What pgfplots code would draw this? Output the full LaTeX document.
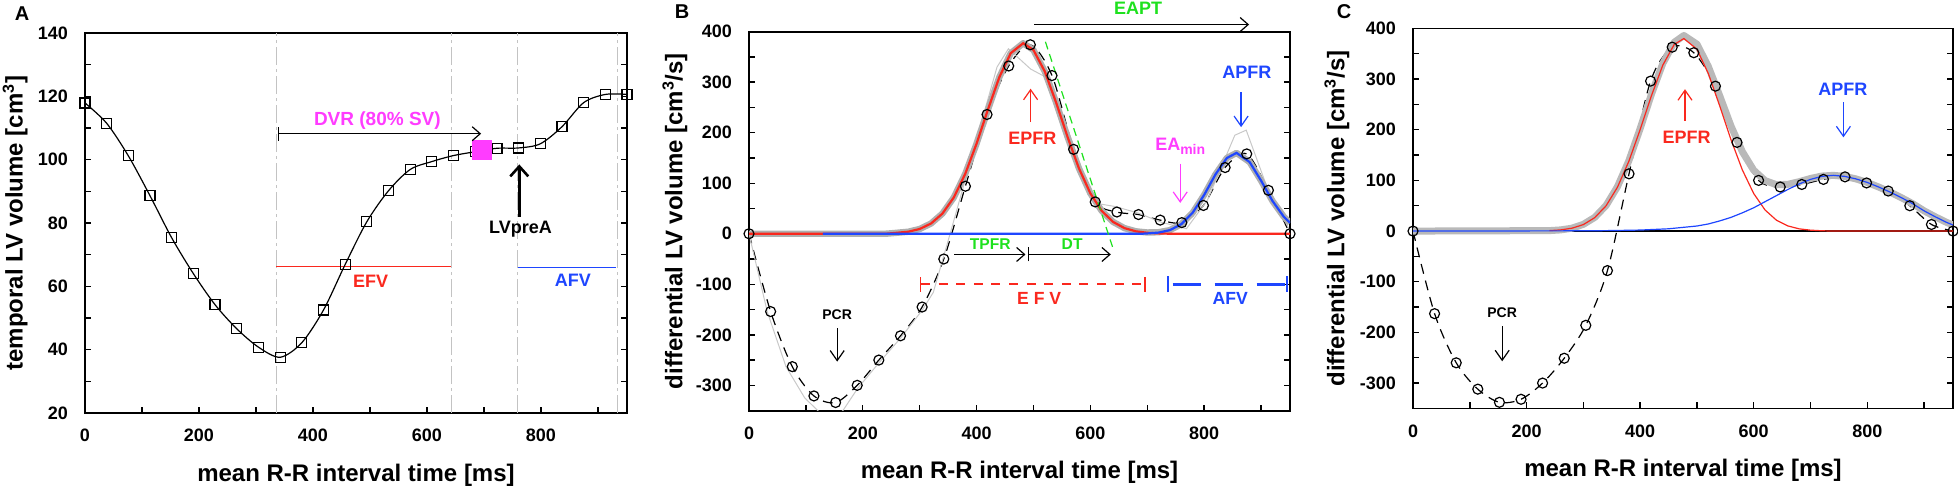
\documentclass[border=0pt]{standalone}
\usepackage{pgfplots}
\pgfplotsset{compat=1.18}
\usepackage{fontspec}
\setmainfont{Liberation Sans}
\usetikzlibrary{arrows.meta}

\definecolor{myred}{RGB}{250,40,30}
\definecolor{myblue}{RGB}{30,70,255}
\definecolor{mymag}{RGB}{255,60,255}
\definecolor{mygreen}{RGB}{30,225,30}
\definecolor{band}{RGB}{175,175,175}
\definecolor{bandc}{RGB}{185,185,185}
\definecolor{raw}{RGB}{200,200,200}
\definecolor{vline}{RGB}{195,195,195}

\newcommand{\fs}[1]{\fontsize{#1}{#1}\selectfont\bfseries}

\tikzset{barb/.style={-{Straight Barb[length=4pt,width=7pt]}}}

\pgfplotsset{
 panel/.style={
  scale only axis, clip mode=individual,
  xmin=0, xmax=951,
  xtick={0,200,...,800}, minor xtick={100,300,500,700,900},
  xtick pos=left, ytick pos=both,
  tick align=inside, major tick length=3pt, minor tick length=3pt,
  every tick/.append style={black, line width=0.7pt},
  every minor tick/.append style={black, line width=0.7pt},
  axis line style={line width=0.9pt},
  tick label style={font=\fs{9}},
  /pgf/number format/assume math mode=true,
  xticklabel style={yshift=-4.5pt},
  yticklabel style={xshift=-5pt},
  label style={font=\fs{12}},
  xlabel={mean R-R interval time [ms]},
  xlabel style={at={(axis description cs:0.5,-0.163)}, anchor=center},
 },
}

\begin{document}
\begin{tikzpicture}

% ---------------- Panel A ----------------
\begin{axis}[panel, at={(42.5pt,37.5pt)}, anchor=south west, width=271pt, height=190pt,
 ymin=20, ymax=140, ytick={20,40,...,140}, minor y tick num=1,
 ylabel={temporal LV volume [cm\textsuperscript{3}]},
 ylabel style={at={(axis description cs:-0.129,0.5)}, anchor=center}]
 \addplot[vline, line width=0.5pt, dash pattern=on 9pt off 2pt on 1.5pt off 2pt] coordinates {(336,20) (336,140)};
 \addplot[vline, line width=0.5pt, dash pattern=on 9pt off 2pt on 1.5pt off 2pt] coordinates {(643,20) (643,140)};
 \addplot[vline, line width=0.5pt, dash pattern=on 9pt off 2pt on 1.5pt off 2pt] coordinates {(759,20) (759,140)};
 \addplot[vline, line width=0.5pt, dash pattern=on 9pt off 2pt on 1.5pt off 2pt] coordinates {(935,20) (935,140)};
 \addplot[myred, line width=0.8pt] coordinates {(336,66.3) (643,66.3)};
 \addplot[myblue, line width=0.8pt] coordinates {(759,65.9) (932,65.9)};
 \addplot[black, line width=0.6pt, smooth, mark=square, mark size=2.5pt, mark options={solid, line width=0.6pt}] coordinates {
 (0,117.9) (38.0,111.5) (76.1,101.2) (114.1,88.6) (152.2,75.3) (190.2,64.0) (228.2,54.2) (266.3,46.6) (304.3,40.8) (342.4,37.6) (380.4,42.2) (418.4,52.5) (456.5,66.9) (494.5,80.4) (532.6,90.2) (570.6,96.9) (608.6,99.4) (646.7,101.3) (684.7,102.5) (722.8,103.6) (760.8,103.7) (798.8,105.0) (836.9,110.4) (874.9,118.0) (913.0,120.6) (951,120.6)};
 \addplot[only marks, mark=square*, mark size=4.75pt, mark options={draw=mymag, fill=mymag}] coordinates {(696,103)};
 \draw[black, line width=0.6pt, {Bar[width=7pt]}-{Straight Barb[length=4pt,width=7pt]}] (axis cs:339,108.2) -- (axis cs:695,108.2);
 \node[mymag, font=\fs{9.5}] at (axis cs:513,112.4) {DVR (80\% SV)};
 \draw[black, line width=1.3pt, -{Straight Barb[length=5pt,width=9pt]}] (axis cs:762,82) -- (axis cs:762,98.5);
 \node[font=\fs{9}] at (axis cs:764,78.2) {LVpreA};
 \node[myred, font=\fs{9}] at (axis cs:501,61.5) {EFV};
 \node[myblue, font=\fs{9}] at (axis cs:856,62) {AFV};
\end{axis}

% ---------------- Panel B ----------------
\begin{axis}[panel, at={(374.5pt,38.7pt)}, anchor=south west, width=270.5pt, height=189.5pt,
 ymin=-350, ymax=400, ytick={-300,-200,...,400}, minor ytick={-350,-250,...,350},
 ylabel={differential LV volume [cm\textsuperscript{3}/s]},
 ylabel style={at={(axis description cs:-0.137,0.5)}, anchor=center}]
 \addplot[black, line width=0.6pt, dash pattern=on 5pt off 3.5pt, smooth] coordinates {
 (0,0) (38.0,-154) (76.1,-263) (114.1,-321) (152.2,-334) (190.2,-300) (228.2,-250) (266.3,-202) (304.3,-145) (342.4,-50) (380.4,94) (418.4,236) (456.5,332) (494.5,374) (532.6,313) (570.6,167) (608.6,63) (646.7,43) (684.7,38) (722.8,27) (760.8,22) (798.8,56) (836.9,131) (874.9,158) (913.0,86) (951,0)};
 \addplot[raw, line width=0.5pt] coordinates {
 (0,0) (32,-154) (65,-263) (98,-325) (121,-350) (140,-372) (165,-350) (191,-306) (228,-256) (266,-207) (304,-152) (324,-116) (354,2) (380,106) (406,211) (436,330) (456,366) (495,326) (528,306) (569,179) (584,120) (606,61) (643,54) (684,41) (724,23) (769,10) (806,67) (854,195) (874,205) (910,94) (950,8)};
 \addplot[band, line width=3.2pt, line join=round] coordinates {
 (0,0) (240,0) (250,0.9) (280,4) (300,9.4) (320,20.3) (340,39.9) (360,71.8) (380,118.3) (400,178.3) (420,245.7) (440,309.7) (460,357.2) (482,377) (500,363.6) (520,321) (540,259.2) (560,191.4) (580,129.4) (600,80) (620,45.2) (640,23.4) (660,11.1) (680,4.8) (700,2.5) (720,3.0) (740,7.2) (760,19) (780,41.8) (800,76.7) (820,117.4) (840,149.9) (857,160) (880,141.9) (900,105.3) (920,65.2) (940,33.7) (951,21.7)};
 \addplot[myred, line width=1.1pt] coordinates {
 (0,0) (240,0) (250,0.9) (280,4.0) (300,9.4) (320,20.3) (340,39.9) (360,71.8) (380,118.3) (400,178.3) (420,245.7) (440,309.7) (460,357.2) (482,377) (500,363.6) (520,321.0) (540,259.2) (560,191.4) (580,129.4) (600,80.0) (620,45.2) (640,23.4) (660,11.1) (680,4.8) (700,1.9) (720,0.7) (740,0) (951,0)};
 \addplot[myblue, line width=1.1pt] coordinates {
 (130,0) (690,0) (700,0.6) (720,2.3) (740,7.2) (760,19.0) (780,41.8) (800,76.7) (820,117.4) (840,149.9) (857,160) (880,141.9) (900,105.3) (920,65.2) (940,33.7) (951,21.7)};
 \addplot[mygreen, line width=0.6pt, dash pattern=on 4pt off 2.5pt] coordinates {(521,380) (639,-26)};
 \addplot[only marks, mark=o, mark size=2.5pt, mark options={black, line width=0.6pt}] coordinates {
 (0,0) (38.0,-154) (76.1,-263) (114.1,-321) (152.2,-334) (190.2,-300) (228.2,-250) (266.3,-202) (304.3,-145) (342.4,-50) (380.4,94) (418.4,236) (456.5,332) (494.5,374) (532.6,313) (570.6,167) (608.6,63) (646.7,43) (684.7,38) (722.8,27) (760.8,22) (798.8,56) (836.9,131) (874.9,158) (913.0,86) (951,0)};
 \addplot[myred, line width=0.9pt, dash pattern=on 4.5pt off 4.3pt, {Bar[width=7.5pt]}-{Bar[width=7.5pt]}] coordinates {(300,-100) (698,-100)};
 \addplot[myblue, line width=1.4pt, dash pattern=on 0pt off 2pt on 14pt off 5pt, {Bar[width=8pt]}-{Bar[width=8pt]}] coordinates {(734,-100) (948,-100)};
 \draw[black, line width=0.6pt, barb] (axis cs:361,-41) -- (axis cs:486,-41);
 \draw[black, line width=0.6pt, {Bar[width=7pt]}-{Straight Barb[length=4pt,width=7pt]}] (axis cs:490,-41) -- (axis cs:636,-41);
 \node[mygreen, font=\fs{7.8}] at (axis cs:424,-21.5) {TPFR};
 \node[mygreen, font=\fs{7.8}] at (axis cs:568,-21.5) {DT};
 \draw[black, line width=0.6pt, barb] (axis cs:501,414) -- (axis cs:879,414);
 \node[mygreen, font=\fs{9}] at (axis cs:684,447) {EAPT};
 \draw[myred, line width=0.6pt, -{Straight Barb[length=5pt,width=7pt]}] (axis cs:495,221) -- (axis cs:495,287);
 \node[myred, font=\fs{9}] at (axis cs:498,188.5) {EPFR};
 \node[myblue, font=\fs{9}] at (axis cs:875,319) {APFR};
 \draw[myblue, line width=0.6pt, -{Straight Barb[length=5pt,width=7pt]}] (axis cs:865,280) -- (axis cs:865,211);
 \node[mymag, font=\fs{9}] at (axis cs:758,173) {EA\raisebox{-2pt}{\fs{7}min}};
 \draw[mymag, line width=0.6pt, -{Straight Barb[length=5pt,width=7pt]}] (axis cs:758,139) -- (axis cs:758,61);
 \node[myred, font=\fs{8.8}] at (axis cs:510,-128) {E F V};
 \node[myblue, font=\fs{8.8}] at (axis cs:846,-128) {AFV};
 \node[font=\fs{7}] at (axis cs:155,-160) {PCR};
 \draw[black, line width=0.6pt, -{Straight Barb[length=5pt,width=7pt]}] (axis cs:155,-187) -- (axis cs:155,-253);
\end{axis}

% ---------------- Panel C ----------------
\begin{axis}[panel, at={(706.5pt,39.8pt)}, anchor=south west, width=270pt, height=190pt,
 ymin=-350, ymax=400, ytick={-300,-200,...,400}, minor ytick={-350,-250,...,350},
 ylabel={differential LV volume [cm\textsuperscript{3}/s]},
 ylabel style={at={(axis description cs:-0.141,0.5)}, anchor=center}]
 \addplot[black, line width=0.6pt] coordinates {(0,0) (951,0)};
 \addplot[black, line width=0.6pt, dash pattern=on 5pt off 3.5pt, smooth] coordinates {
 (0,0) (38.0,-163) (76.1,-260) (114.1,-312) (152.2,-338) (190.2,-332) (228.2,-300) (266.3,-251) (304.3,-186) (342.4,-78) (380.4,113) (418.4,296) (456.5,363) (494.5,352) (532.6,286) (570.6,175) (608.6,100) (646.7,87) (684.7,92) (722.8,102) (760.8,107) (798.8,95) (836.9,79) (874.9,50) (913.0,13) (951,0)};
 \addplot[bandc, line width=3.5pt, line join=round] coordinates {
 (0,0) (240,0.9) (260,2.3) (280,5.7) (300,13.3) (320,27) (340,50.5) (360,87.5) (380,138.5) (400,202.2) (420,270.5) (440,331) (460,372.5) (477,386) (500,368.9) (520,325.1) (540,267.4) (560,207.4) (580,156.7) (600,120.1) (620,99.6) (640,91.5) (660,92.2) (680,97.4) (700,103.8) (720,108.6) (740,110) (760,108) (780,103) (800,96) (820,87) (840,77) (860,66) (880,54) (900,40) (920,28) (940,17) (951,12)};
 \addplot[myred, line width=0.6pt] coordinates {
 (240,0.9) (260,2.3) (280,5.7) (300,12.8) (320,26.5) (340,49.9) (360,86.5) (380,137.4) (400,200.2) (420,267.5) (440,327.7) (460,368.3) (477,380) (500,358.9) (520,311.1) (540,247.4) (560,180.4) (580,120.7) (600,74.1) (620,41.6) (640,21.5) (660,10.2) (680,4.4) (700,1.8) (720,0.6) (740,0) (951,0)};
 \addplot[myblue, line width=0.6pt] coordinates {
 (0,0) (300,0.5) (350,1) (400,2) (450,4.5) (500,10) (520,14) (540,20) (560,27) (580,36) (600,46) (620,58) (640,70) (660,82) (680,93) (700,102) (720,108) (740,110) (760,108) (780,103) (800,96) (820,87) (840,77) (860,66) (880,54) (900,40) (920,28) (940,17) (951,12)};
 \addplot[only marks, mark=o, mark size=2.5pt, mark options={black, line width=0.6pt}] coordinates {
 (0,0) (38.0,-163) (76.1,-260) (114.1,-312) (152.2,-338) (190.2,-332) (228.2,-300) (266.3,-251) (304.3,-186) (342.4,-78) (380.4,113) (418.4,296) (456.5,363) (494.5,352) (532.6,286) (570.6,175) (608.6,100) (646.7,87) (684.7,92) (722.8,102) (760.8,107) (798.8,95) (836.9,79) (874.9,50) (913.0,13) (951,0)};
 \node[font=\fs{7}] at (axis cs:157,-162) {PCR};
 \draw[black, line width=0.6pt, -{Straight Barb[length=5pt,width=7pt]}] (axis cs:157,-188) -- (axis cs:157,-257);
 \node[myred, font=\fs{9}] at (axis cs:482,185) {EPFR};
 \draw[myred, line width=0.6pt, -{Straight Barb[length=5pt,width=7pt]}] (axis cs:479,218) -- (axis cs:479,280);
 \node[myblue, font=\fs{9}] at (axis cs:757,280) {APFR};
 \draw[myblue, line width=0.6pt, -{Straight Barb[length=5pt,width=7pt]}] (axis cs:758,254) -- (axis cs:758,185);
\end{axis}

\node[font=\fs{10}] at (11pt,237.3pt) {A};
\node[font=\fs{10}] at (341pt,238pt) {B};
\node[font=\fs{10}] at (672pt,238pt) {C};

\pgfresetboundingbox
\path[use as bounding box] (0,0) rectangle (979pt,244pt);
\end{tikzpicture}
\end{document}
